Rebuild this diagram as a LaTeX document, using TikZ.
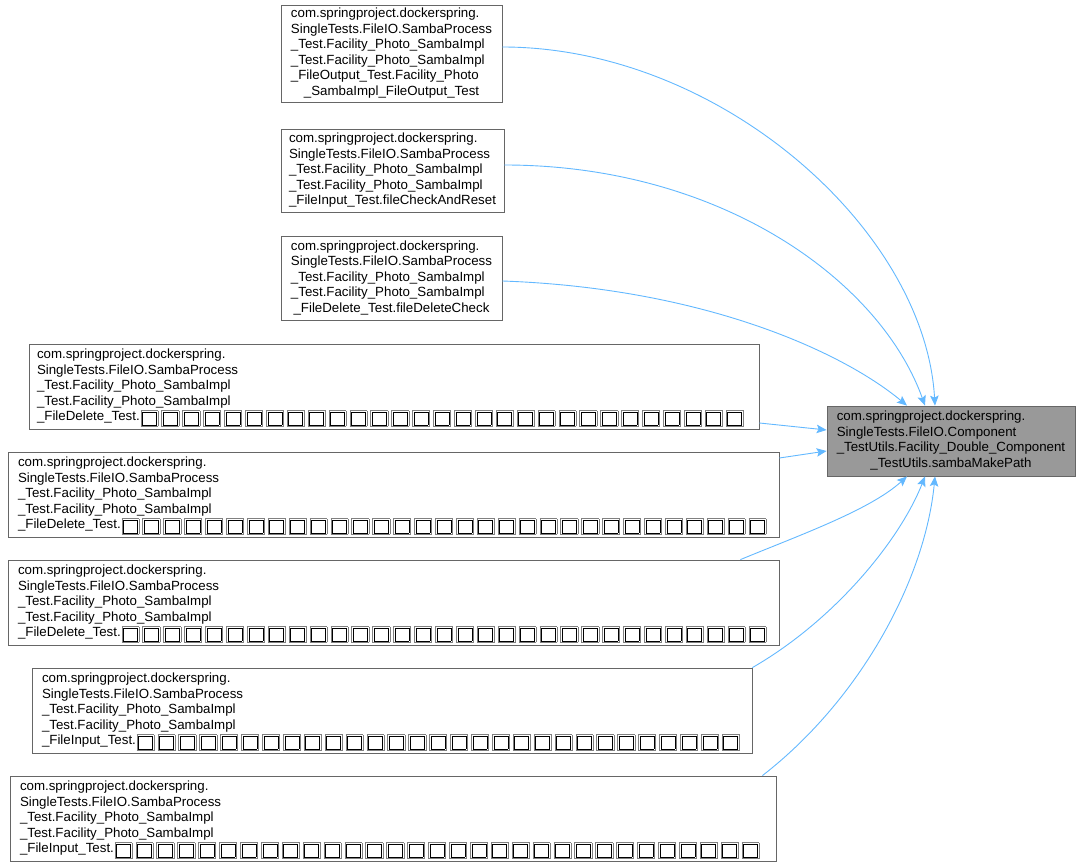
\documentclass[tikz,border=0pt]{standalone}
\usepackage{fontspec}
\setmainfont{Liberation Sans}
\usetikzlibrary{arrows.meta}
\definecolor{edgeblue}{HTML}{63B8FF}
\definecolor{boxborder}{HTML}{666666}
\definecolor{targetfill}{HTML}{999999}
\newcommand\tofu{\smash{\raisebox{-4pt}{\textcolor{gray}{\fboxsep=1pt\fboxrule=0.6pt\fbox{\textcolor{black}{\fboxsep=0pt\fboxrule=0.6pt\fbox{\rule{0pt}{12pt}\hspace{13.4pt}}}}}}}\hspace{3.1pt}}
\newcommand\tofus[1]{\hspace{0.8pt}\foreach \k in {1,...,#1}{\tofu}}
\newcommand\leftin[3]{\makebox[#1][l]{\hspace{#2}\begin{tabular}{@{}l@{}}#3\end{tabular}}}
\tikzset{
  src/.style={draw=boxborder, fill=white, line width=0.8pt, inner sep=0pt, anchor=center},
  tgt/.style={draw=boxborder, fill=targetfill, line width=0.8pt, inner sep=0pt, anchor=center},
  edge/.style={draw=edgeblue, line width=0.9pt, -{Stealth[length=10pt,width=8.5pt,inset=2pt]}},
}
\begin{document}
\begin{tikzpicture}[x=1pt,y=-1pt,
  every node/.style={font=\fontsize{13.3pt}{15.5pt}\selectfont}]
\useasboundingbox (0,0) rectangle (1080,866);
\node[src, minimum width=221pt, minimum height=97pt] (n1) at (391.5,53.5)
 {\begin{tabular}{@{}l@{}}com.springproject.dockerspring.\\SingleTests.FileIO.SambaProcess\\\_Test.Facility\_Photo\_SambaImpl\\\_Test.Facility\_Photo\_SambaImpl\\\_FileOutput\_Test.Facility\_Photo\\\multicolumn{1}{@{}c@{}}{\_SambaImpl\_FileOutput\_Test}\end{tabular}};
\node[src, minimum width=223pt, minimum height=83pt] (n2) at (392.5,170.5)
 {\begin{tabular}{@{}l@{}}com.springproject.dockerspring.\\SingleTests.FileIO.SambaProcess\\\_Test.Facility\_Photo\_SambaImpl\\\_Test.Facility\_Photo\_SambaImpl\\\_FileInput\_Test.fileCheckAndReset\end{tabular}};
\node[src, minimum width=221pt, minimum height=84pt] (n3) at (391.5,278)
 {\begin{tabular}{@{}l@{}}com.springproject.dockerspring.\\SingleTests.FileIO.SambaProcess\\\_Test.Facility\_Photo\_SambaImpl\\\_Test.Facility\_Photo\_SambaImpl\\\multicolumn{1}{@{}c@{}}{\_FileDelete\_Test.fileDeleteCheck}\end{tabular}};
\node[src, minimum height=85pt] (n4) at (394,386.5)
 {\leftin{730pt}{8pt}{com.springproject.dockerspring.\\SingleTests.FileIO.SambaProcess\\\_Test.Facility\_Photo\_SambaImpl\\\_Test.Facility\_Photo\_SambaImpl\\\_FileDelete\_Test.\tofus{29}}};
\node[src, minimum height=85pt] (n5) at (393.5,494.5)
 {\leftin{771pt}{10pt}{com.springproject.dockerspring.\\SingleTests.FileIO.SambaProcess\\\_Test.Facility\_Photo\_SambaImpl\\\_Test.Facility\_Photo\_SambaImpl\\\_FileDelete\_Test.\tofus{31}}};
\node[src, minimum height=85pt] (n6) at (393.5,602.5)
 {\leftin{771pt}{10pt}{com.springproject.dockerspring.\\SingleTests.FileIO.SambaProcess\\\_Test.Facility\_Photo\_SambaImpl\\\_Test.Facility\_Photo\_SambaImpl\\\_FileDelete\_Test.\tofus{31}}};
\node[src, minimum height=85pt] (n7) at (392,710.5)
 {\leftin{720pt}{10pt}{com.springproject.dockerspring.\\SingleTests.FileIO.SambaProcess\\\_Test.Facility\_Photo\_SambaImpl\\\_Test.Facility\_Photo\_SambaImpl\\\_FileInput\_Test.\tofus{29}}};
\node[src, minimum height=85pt] (n8) at (393,818.5)
 {\leftin{766pt}{10pt}{com.springproject.dockerspring.\\SingleTests.FileIO.SambaProcess\\\_Test.Facility\_Photo\_SambaImpl\\\_Test.Facility\_Photo\_SambaImpl\\\_FileInput\_Test.\tofus{31}}};
\node[tgt, minimum width=248pt, minimum height=70pt] (t) at (951,441)
 {\begin{tabular}{@{}l@{}}com.springproject.dockerspring.\\SingleTests.FileIO.Component\\\_TestUtils.Facility\_Double\_Component\\\multicolumn{1}{@{}c@{}}{\_TestUtils.sambaMakePath}\end{tabular}};
% edges
\draw[edge] ([yshift=6.5pt]n1.east) .. controls (720,47) and (925,230) .. ([xshift=-16pt]t.north);
\draw[edge] ([yshift=5.5pt]n2.east) .. controls (720,165) and (880,280) .. ([xshift=-26pt]t.north);
\draw[edge] ([yshift=-3pt]n3.east) .. controls (700,288) and (840,350) .. ([xshift=-44pt]t.north);
\draw[edge] ([yshift=-36.5pt]n4.east) -- ([yshift=11pt]t.west);
\draw[edge] ([yshift=36.5pt]n5.east) -- ([yshift=-10pt]t.west);
\draw[edge] ([xshift=-39pt]n6.north east) .. controls (800,535) and (870,510) .. ([xshift=-44pt]t.south);
\draw[edge] ([xshift=0pt]n7.north east) .. controls (835,620) and (900,540) .. ([xshift=-26pt]t.south);
\draw[edge] ([xshift=-14pt]n8.north east) .. controls (860,700) and (925,580) .. ([xshift=-16pt]t.south);
\end{tikzpicture}
\end{document}
